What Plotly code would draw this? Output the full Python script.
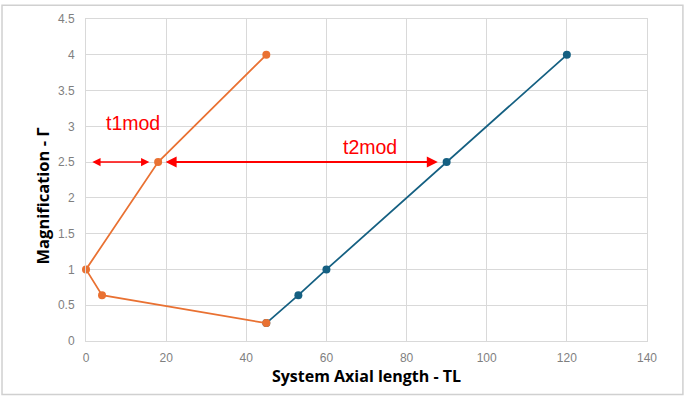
import plotly.graph_objects as go

# Data
orange_x = [45, 4, 0, 18, 45]
orange_y = [0.25, 0.64, 1, 2.5, 4]
blue_x = [45, 53, 60, 90, 120]
blue_y = [0.25, 0.64, 1, 2.5, 4]
x_ticks = [0, 20, 40, 60, 80, 100, 120, 140]
y_ticks = [0, 0.5, 1, 1.5, 2, 2.5, 3, 3.5, 4, 4.5]
y_tick_text = ["0", "0.5", "1", "1.5", "2", "2.5", "3", "3.5", "4", "4.5"]

BLUE = "#156082"
ORANGE = "#E97132"
RED = "#FF0000"

fig = go.Figure()
fig.add_trace(go.Scatter(x=blue_x, y=blue_y, mode="lines+markers", cliponaxis=False,
                         line=dict(color=BLUE, width=1.75),
                         marker=dict(color=BLUE, size=8), showlegend=False))
fig.add_trace(go.Scatter(x=orange_x, y=orange_y, mode="lines+markers", cliponaxis=False,
                         line=dict(color=ORANGE, width=1.75),
                         marker=dict(color=ORANGE, size=8), showlegend=False))

# arrows (double headed)
arrows = [(1.2, 15.8, 1.5), (19.5, 87.8, 2)]
for x0, x1, w in arrows:
    fig.add_annotation(x=x1, y=2.5, ax=x0, ay=2.5, xref="x", yref="y",
                       axref="x", ayref="y", text="", showarrow=True,
                       arrowhead=2, startarrowhead=2, arrowside="end+start",
                       arrowsize=1.1, startarrowsize=1.1,
                       arrowwidth=w, arrowcolor=RED)

fig.add_annotation(x=11.7, y=3.05, text="t1mod", showarrow=False, xref="x", yref="y",
                   font=dict(color=RED, size=19.5, family="Liberation Sans"))
fig.add_annotation(x=70.8, y=2.71, text="t2mod", showarrow=False, xref="x", yref="y",
                   font=dict(color=RED, size=19.5, family="Liberation Sans"))

# y axis title as annotation (positioned like the reference)
fig.add_annotation(x=-0.0784, y=0.449, xref="paper", yref="paper", textangle=-90,
                   xanchor="center", yanchor="middle",
                   text="<b>Magnification - Γ</b>", showarrow=False,
                   font=dict(size=16.5, color="#000000", family="Open Sans"))

# outer border
fig.add_shape(type="rect", xref="paper", yref="paper", x0=-0.1497, x1=1.064,
              y0=-0.166, y1=1.043, line=dict(color="#d0d0d0", width=1.5),
              fillcolor="rgba(0,0,0,0)", layer="below")

axis_common = dict(showgrid=True, gridcolor="#d9d9d9", gridwidth=1,
                   showline=True, linecolor="#d9d9d9", linewidth=1, mirror=True,
                   zeroline=False, ticks="",
                   tickfont=dict(color="#7f7f7f", size=12, family="Liberation Sans"))

fig.update_xaxes(range=[0, 140], tickvals=x_ticks, ticklabelstandoff=6, **axis_common,
                 title=dict(text="<b>System Axial length - TL</b>",
                            font=dict(size=16, color="#000000", family="Open Sans"),
                            standoff=6))
fig.update_yaxes(range=[0, 4.5], tickvals=y_ticks, ticktext=y_tick_text,
                 ticklabelstandoff=8, **axis_common)

fig.update_layout(width=686, height=398,
                  margin=dict(l=86, r=39, t=16, b=57),
                  plot_bgcolor="white", paper_bgcolor="white")

fig.write_html("out.html", config={"displayModeBar": False},
               post_script="document.body.style.margin='0px';document.body.style.padding='0px';")
